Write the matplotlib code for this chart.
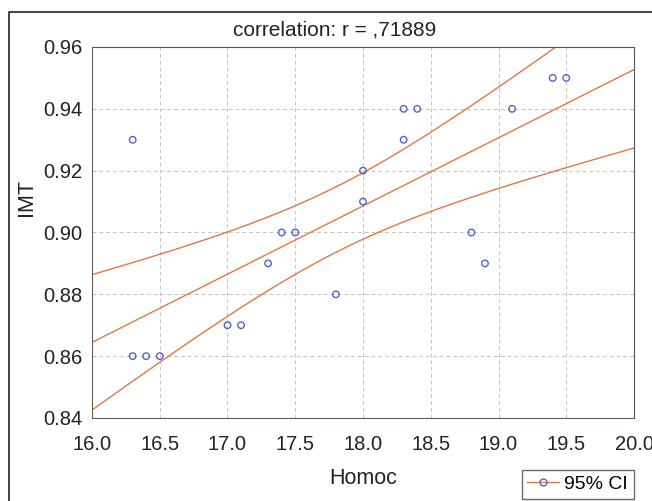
import numpy as np
import matplotlib.pyplot as plt
from matplotlib.lines import Line2D

# data
homoc = [16.3, 16.3, 16.4, 16.5, 17.0, 17.1, 17.3, 17.4, 17.5, 17.8,
         18.0, 18.0, 18.3, 18.4, 18.3, 18.8, 18.9, 19.1, 19.4, 19.5]
imt = [0.93, 0.86, 0.86, 0.86, 0.87, 0.87, 0.89, 0.90, 0.90, 0.88,
       0.92, 0.91, 0.94, 0.94, 0.93, 0.90, 0.89, 0.94, 0.95, 0.95]
x_ticks = [16.0, 16.5, 17.0, 17.5, 18.0, 18.5, 19.0, 19.5, 20.0]
y_ticks = [0.84, 0.86, 0.88, 0.90, 0.92, 0.94, 0.96]

plt.rcParams['font.family'] = ['Liberation Sans', 'DejaVu Sans']

# linear fit + 95% confidence band
x = np.array(homoc)
y = np.array(imt)
n = len(x)
slope, icpt = np.polyfit(x, y, 1)
resid = y - (slope * x + icpt)
s = np.sqrt(np.sum(resid ** 2) / (n - 2))
sxx = np.sum((x - x.mean()) ** 2)
t = 2.101  # t(0.975, 18)

xs = np.linspace(16.0, 20.0, 200)
fit = slope * xs + icpt
half = t * s * np.sqrt(1.0 / n + (xs - x.mean()) ** 2 / sxx)

fig = plt.figure(figsize=(6.52, 5.01), dpi=100)
ax = fig.add_axes([0.1411, 0.1657, 0.8313, 0.7405])

line_c = '#e07848'
ax.plot(xs, fit, color=line_c, lw=1.0)
ax.plot(xs, fit + half, color=line_c, lw=1.0)
ax.plot(xs, fit - half, color=line_c, lw=1.0)
ax.scatter(x, y, s=22, facecolors='none', edgecolors='#5563c4', linewidths=1.0, zorder=3)

ax.set_xlim(16.0, 20.0)
ax.set_ylim(0.84, 0.96)
ax.set_xticks(x_ticks)
ax.set_xticklabels(['%.1f' % v for v in x_ticks])
ax.set_yticks(y_ticks)
ax.set_yticklabels(['%.2f' % v for v in y_ticks])
ax.tick_params(labelsize=14.5, length=0, colors='#222222')
ax.tick_params(axis='x', pad=12)
ax.tick_params(axis='y', pad=7)
ax.grid(True, ls=(0, (4, 3)), color='#c4c4c4', lw=0.7)
for side in ['left', 'bottom']:
    ax.spines[side].set_color('#6e5a50')
for side in ['top', 'right']:
    ax.spines[side].set_color('#555555')

fig.text(335 / 652, 1 - 30 / 501, 'correlation: r = ,71889', ha='center', va='center', fontsize=15, color='#222222')
fig.text(363 / 652, 1 - 478 / 501, 'Homoc', ha='center', va='center', fontsize=15.5, color='#222222')
fig.text(27 / 652, 1 - 198 / 501, 'IMT', ha='center', va='center', rotation=90, fontsize=15.5, color='#222222')

# legend
h, = ax.plot([], [], color=line_c, lw=1.0, marker='o', mfc='none', mec='#5563c4', ms=5)
fig.legend([h], ['95% CI'], loc='lower right', bbox_to_anchor=(634 / 652, 2 / 501),
           borderaxespad=0, fontsize=14, frameon=True, fancybox=False, edgecolor='#444444',
           handlelength=1.6, handletextpad=0.3, borderpad=0.3)

# outer frame (left and top edges)
fig.add_artist(Line2D([9 / 652, 9 / 652, 1.0], [0.0, 1 - 12 / 501, 1 - 12 / 501],
                      transform=fig.transFigure, color='#222222', lw=1.2))

plt.savefig('out.png')
